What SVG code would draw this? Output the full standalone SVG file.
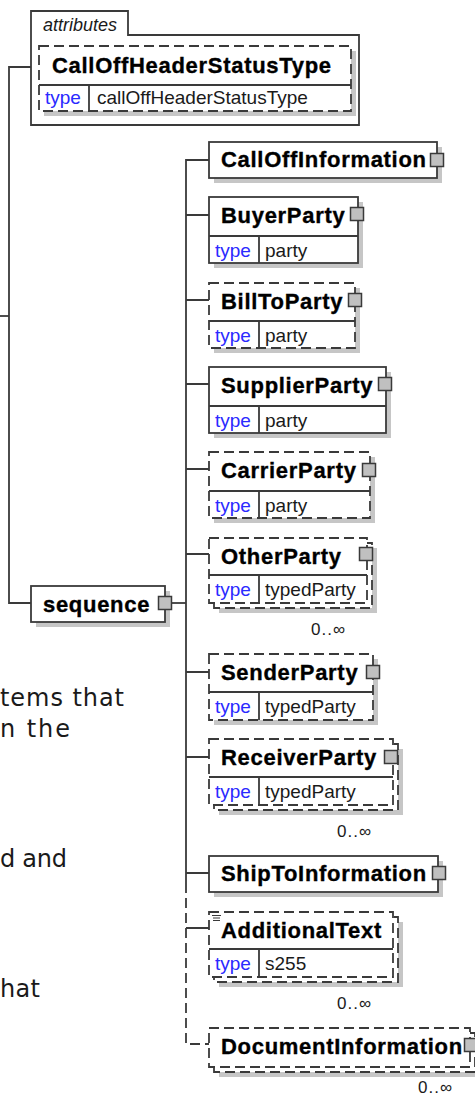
<svg xmlns="http://www.w3.org/2000/svg" width="475" height="1095" viewBox="0 0 475 1095">
<style>
.bx{fill:#fff;stroke:#3a3a3a;stroke-width:1.8}
.d{stroke-dasharray:10 5}
.sh{fill:#c6c6c6}
.ln{fill:none;stroke:#3a3a3a;stroke-width:1.8}
.sq{fill:#c0c0c0;stroke:#3a3a3a;stroke-width:1.5}
.h{font-family:"Liberation Sans",Arial,sans-serif;font-weight:bold;font-size:22px;letter-spacing:0.7px;fill:#000;stroke:#000;stroke-width:0.35}
.ty{font-family:"Liberation Sans",Arial,sans-serif;font-size:19px;fill:#2a2aff}
.tv{font-family:"Liberation Sans",Arial,sans-serif;font-size:19px;fill:#1a1a1a}
.occ{font-family:"Liberation Sans",Arial,sans-serif;font-size:17px;letter-spacing:1px;fill:#1a1a1a}
.bg{font-family:"DejaVu Sans",Verdana,sans-serif;font-size:24px;fill:#1a1a1a}
.it{font-family:"Liberation Sans",Arial,sans-serif;font-style:italic;font-size:18px;fill:#1a1a1a}
</style>
<rect width="475" height="1095" fill="#fff"/>
<g id="background-text">
<text class="bg" x="0" y="706" textLength="124">tems that</text>
<text class="bg" x="0" y="737" textLength="70">n the</text>
<text class="bg" x="0" y="867" textLength="67">d and</text>
<text class="bg" x="0" y="997" textLength="40">hat</text>
</g>
<g id="connectors">
<path class="ln" d="M0,316 H9"/>
<path class="ln" d="M31,67 H9 V603 H31"/>
<path class="ln" d="M171,603 H186"/>
<path class="ln" d="M209,160 H186 V883"/>
<path class="ln d" d="M186,883 V1044 H209"/>
<path class="ln" d="M186,215 H209 M186,300 H209 M186,384 H209 M186,469 H209 M186,554 H209 M186,672 H209 M186,757 H209 M186,873 H209 M186,928 H209"/>
</g>
<g id="attributes">
<path class="bx" d="M31,125 V11 H128 V35 H359 V125 Z"/>
<text class="it" x="43" y="31">attributes</text>
<rect class="sh" x="44" y="51" width="312" height="65"/>
<rect class="bx d" x="39" y="46" width="312" height="65"/>
<path class="ln" d="M39,85 H351 M89,85 V111"/>
<text class="h" x="52" y="73">CallOffHeaderStatusType</text>
<text class="ty" x="45" y="104">type</text>
<text class="tv" x="97" y="104">callOffHeaderStatusType</text>
</g>
<g id="sequence">
<rect class="sh" x="36" y="591" width="134" height="36"/>
<rect class="bx" x="31" y="586" width="134" height="36"/>
<text class="h" x="43" y="612">sequence</text>
<rect class="sq" x="158.5" y="596.5" width="13" height="13"/>
</g>
<g id="CallOffInformation">
<rect class="sh" x="214" y="147" width="228" height="36"/>
<rect class="bx" x="209" y="142" width="228" height="36"/>
<text class="h" x="221" y="167">CallOffInformation</text>
<rect class="sq" x="430.5" y="153.5" width="13" height="13"/>
</g>
<g id="BuyerParty">
<rect class="sh" x="214" y="202" width="149" height="66"/>
<rect class="bx" x="209" y="197" width="149" height="66"/>
<path class="ln" d="M209,236 H358 M259,236 V263"/>
<text class="h" x="221" y="223">BuyerParty</text>
<text class="ty" x="215" y="257">type</text>
<text class="tv" x="265" y="257">party</text>
<rect class="sq" x="350.5" y="207.5" width="13" height="13"/>
</g>
<g id="BillToParty">
<rect class="sh" x="214" y="288" width="146" height="65"/>
<rect class="bx d" x="209" y="283" width="146" height="65"/>
<path class="ln" d="M209,321 H355 M259,321 V348"/>
<text class="h" x="221" y="309">BillToParty</text>
<text class="ty" x="215" y="342">type</text>
<text class="tv" x="265" y="342">party</text>
<rect class="sq" x="348.5" y="293.5" width="13" height="13"/>
</g>
<g id="SupplierParty">
<rect class="sh" x="214" y="372" width="177" height="66"/>
<rect class="bx" x="209" y="367" width="177" height="66"/>
<path class="ln" d="M209,406 H386 M259,406 V433"/>
<text class="h" x="221" y="393">SupplierParty</text>
<text class="ty" x="215" y="427">type</text>
<text class="tv" x="265" y="427">party</text>
<rect class="sq" x="378.5" y="377.5" width="13" height="13"/>
</g>
<g id="CarrierParty">
<rect class="sh" x="214" y="457" width="161" height="66"/>
<rect class="bx d" x="209" y="452" width="161" height="66"/>
<path class="ln" d="M209,491 H370 M259,491 V518"/>
<text class="h" x="221" y="478">CarrierParty</text>
<text class="ty" x="215" y="512">type</text>
<text class="tv" x="265" y="512">party</text>
<rect class="sq" x="362.5" y="463.5" width="13" height="13"/>
</g>
<g id="OtherParty">
<rect class="sh" x="219" y="548" width="158" height="65"/>
<rect class="bx d" x="214" y="543" width="158" height="65"/>
<rect class="bx d" x="209" y="538" width="158" height="65"/>
<path class="ln" d="M209,575 H367 M259,575 V603"/>
<text class="h" x="221" y="564">OtherParty</text>
<text class="ty" x="215" y="596">type</text>
<text class="tv" x="265" y="596">typedParty</text>
<rect class="sq" x="359.5" y="547.5" width="13" height="13"/>
<text class="occ" x="311" y="635">0..∞</text>
</g>
<g id="SenderParty">
<rect class="sh" x="214" y="659" width="164" height="66"/>
<rect class="bx d" x="209" y="654" width="164" height="66"/>
<path class="ln" d="M209,692 H373 M259,692 V720"/>
<text class="h" x="221" y="680">SenderParty</text>
<text class="ty" x="215" y="713">type</text>
<text class="tv" x="265" y="713">typedParty</text>
<rect class="sq" x="366.5" y="665.5" width="13" height="13"/>
</g>
<g id="ReceiverParty">
<rect class="sh" x="219" y="749" width="184" height="66"/>
<rect class="bx d" x="214" y="744" width="184" height="66"/>
<rect class="bx d" x="209" y="739" width="184" height="66"/>
<path class="ln" d="M209,777 H393 M259,777 V805"/>
<text class="h" x="221" y="765">ReceiverParty</text>
<text class="ty" x="215" y="798">type</text>
<text class="tv" x="265" y="798">typedParty</text>
<rect class="sq" x="384.5" y="750.5" width="13" height="13"/>
<text class="occ" x="337" y="837">0..∞</text>
</g>
<g id="ShipToInformation">
<rect class="sh" x="214" y="861" width="229" height="36"/>
<rect class="bx" x="209" y="856" width="229" height="36"/>
<text class="h" x="221" y="881">ShipToInformation</text>
<rect class="sq" x="432.5" y="866.5" width="13" height="13"/>
</g>
<g id="AdditionalText">
<rect class="sh" x="219" y="922" width="184" height="65"/>
<rect class="bx d" x="214" y="917" width="184" height="65"/>
<rect class="bx d" x="209" y="912" width="184" height="65"/>
<path class="ln" d="M209,949 H393 M259,949 V977"/>
<path fill="none" stroke="#3a3a3a" stroke-width="1" d="M212,915.5 H221 M213,918 H220 M213,920.5 H220"/>
<text class="h" x="221" y="938">AdditionalText</text>
<text class="ty" x="215" y="970">type</text>
<text class="tv" x="265" y="970">s255</text>
<text class="occ" x="337" y="1009">0..∞</text>
</g>
<g id="DocumentInformation">
<rect class="sh" x="219" y="1038" width="261" height="39"/>
<rect class="bx d" x="214" y="1033" width="261" height="39"/>
<rect class="bx d" x="209" y="1028" width="261" height="39"/>
<text class="h" x="221" y="1054">DocumentInformation</text>
<rect class="sq" x="464.5" y="1038.5" width="13" height="13"/>
<text class="occ" x="418" y="1093">0..∞</text>
</g>
</svg>
